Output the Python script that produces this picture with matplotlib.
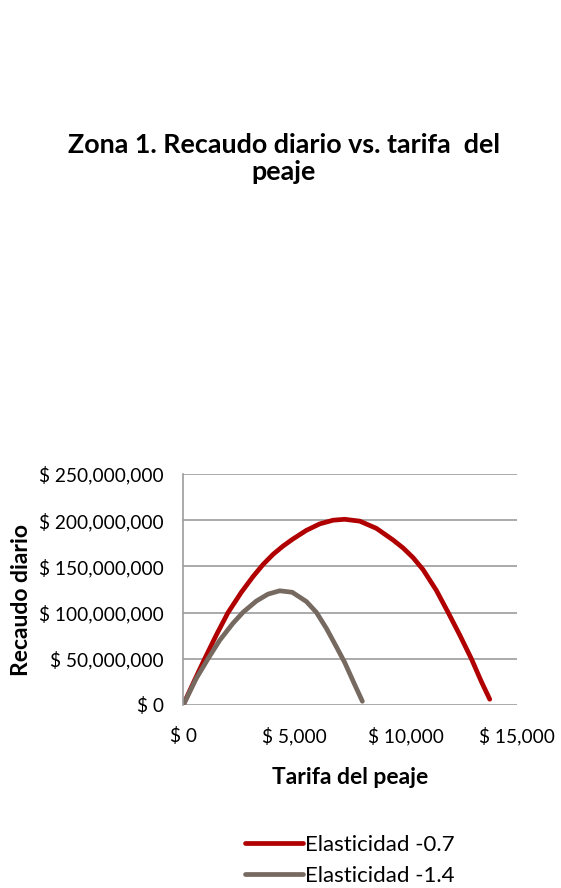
import matplotlib.pyplot as plt
from matplotlib.ticker import FuncFormatter

# tarifa (COP) y recaudo diario (millones COP)
tarifa_07 = [0, 60, 510, 960, 1485, 2010, 2610, 3135, 3585, 4035, 4485, 4920,
             5535, 6135, 6735, 7260, 7935, 8685, 9435, 9885, 10335, 10785,
             11385, 11910, 12435, 12960, 13410, 13785]
recaudo_07 = [0, 3.6, 27, 50, 75.8, 100, 122, 139, 152, 163, 172, 179.5,
              189, 196, 200, 201, 199, 191.2, 178.6, 170, 159.5, 146.5,
              124, 100.3, 75.8, 50, 25.2, 6.2]

tarifa_14 = [0, 585, 1110, 1635, 2235, 2685, 3285, 3810, 4335, 4900,
             5535, 5985, 6435, 6885, 7260, 7710, 8055]
recaudo_14 = [0, 28.9, 50, 70, 88.5, 100.3, 112.5, 120, 123.6, 122,
              112, 100.3, 83, 63, 46, 22, 4]

series = ['Elasticidad -0.7', 'Elasticidad -1.4']
colores = ['#B00000', '#766960']

x_ticks = [0, 5000, 10000, 15000]
y_ticks = [0, 50e6, 100e6, 150e6, 200e6, 250e6]

plt.rcParams['font.family'] = ['Lato', 'DejaVu Sans']

fig = plt.figure(figsize=(5.61, 8.88), dpi=100)
ax = fig.add_axes([0.3268, 0.2061, 0.5943, 0.2601])

ax.plot(tarifa_07, [v * 1e6 for v in recaudo_07], color=colores[0], lw=3.4,
        solid_capstyle='round', solid_joinstyle='round', label=series[0])
ax.plot(tarifa_14, [v * 1e6 for v in recaudo_14], color=colores[1], lw=3.4,
        solid_capstyle='round', solid_joinstyle='round', label=series[1])

ax.set_xlim(0, 15000)
ax.set_ylim(0, 250e6)
ax.set_xticks(x_ticks)
ax.set_yticks(y_ticks)
ax.xaxis.set_major_formatter(FuncFormatter(lambda v, p: '$ {:,.0f}'.format(v)))
ax.yaxis.set_major_formatter(FuncFormatter(lambda v, p: '$ {:,.0f}'.format(v)))
ax.tick_params(axis='both', length=0, labelsize=13.8, colors='black')
ax.tick_params(axis='y', pad=14)
ax.tick_params(axis='x', pad=16)

ax.grid(axis='y', color='#9C9C9C', lw=1.2)
ax.set_axisbelow(True)
for s in ['top', 'right', 'bottom']:
    ax.spines[s].set_visible(False)
ax.spines['left'].set_color('#9C9C9C')
ax.spines['left'].set_linewidth(1.2)

ax.set_ylabel('Recaudo diario', fontsize=16.5, fontweight='bold')
ax.yaxis.set_label_coords(-0.454, 0.455)
ax.set_xlabel('Tarifa del peaje', fontsize=16.5, fontweight='bold')
ax.xaxis.set_label_coords(0.5, -0.27)

fig.text(0.506, 0.822, 'Zona 1. Recaudo diario vs. tarifa  del\npeaje',
         ha='center', va='center', fontsize=19.4, fontweight='bold', linespacing=1.15)

leg = ax.legend(loc='upper left', bbox_to_anchor=(0.437, 0.0595), bbox_transform=fig.transFigure,
                frameon=False, fontsize=16, handlelength=2.6, handletextpad=0.1,
                labelspacing=0.5, borderpad=0, borderaxespad=0)

fig.savefig('out.png', dpi=100)
